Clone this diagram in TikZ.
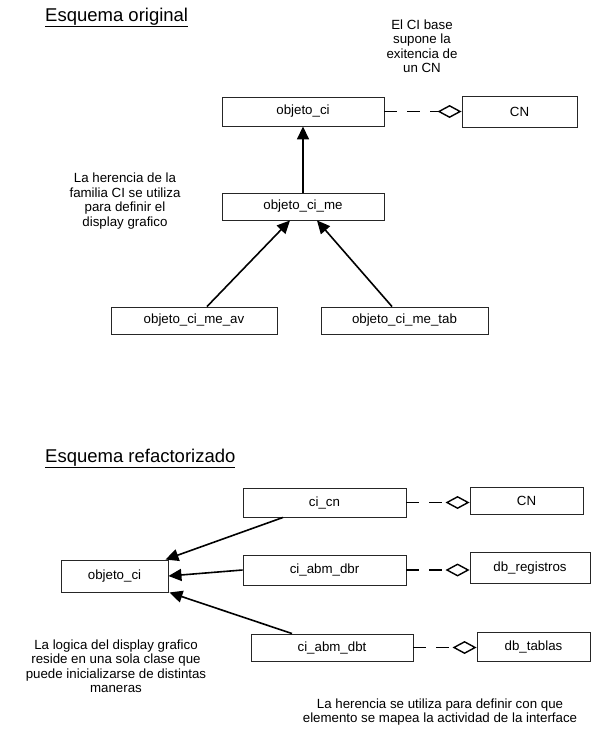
\documentclass[tikz,border=0pt]{standalone}
\usepackage{fontspec}
\setmainfont{Liberation Sans}
\usetikzlibrary{arrows.meta}
\begin{document}
\begin{tikzpicture}[x=1pt,y=-1pt,
  cls/.style={draw=black!85, line width=0.9pt, fill=white, inner sep=0pt,
    font=\fontsize{13.3}{14}\selectfont},
  inherit/.style={line width=1.6pt, -{Triangle[length=13pt,width=12pt]}},
  aggr/.style={line width=1.6pt, dash pattern=on 13pt off 10pt,
    -{Diamond[open,length=24pt,width=13pt,line width=1.4pt]}},
  note/.style={align=center, inner sep=0pt,
    font=\fontsize{13.3}{14.5}\selectfont},
  title/.style={anchor=base west, inner sep=0pt,
    font=\fontsize{18.5}{20}\selectfont}]
\useasboundingbox (0,0) rectangle (591,732);

% ---- original scheme ----
\node[title] (t1) at (45,21) {\underline{Esquema original}};

\node[cls, minimum width=162pt, minimum height=29pt] (oci) at (303,111.5) {objeto\_ci};
\node[cls, minimum width=115pt, minimum height=31pt] (cn1) at (519.5,111.5) {CN};
\node[cls, minimum width=162pt, minimum height=27pt] (ocime) at (303,206.5) {objeto\_ci\_me};
\node[cls, minimum width=166pt, minimum height=27pt] (av) at (194,320.5) {objeto\_ci\_me\_av};
\node[cls, minimum width=167pt, minimum height=27pt] (tab) at (404.5,320.5) {objeto\_ci\_me\_tab};

\node[note] (n1) at (422,46) {El CI base\\supone la\\exitencia de\\un CN};
\node[note] (n2) at (125,201) {La herencia de la\\familia CI se utiliza\\para definir el\\display grafico};

\draw[inherit] (ocime.north) -- (oci.south);
\draw[inherit] ([xshift=13pt]av.north) -- ([xshift=-13pt]ocime.south);
\draw[inherit] ([xshift=-12.5pt]tab.north) -- ([xshift=14pt]ocime.south);
\draw[aggr] (oci.east) -- (cn1.west);

% ---- refactored scheme ----
\node[title] (t2) at (45,462) {\underline{Esquema refactorizado}};

\node[cls, minimum width=107pt, minimum height=32pt] (oci2) at (114.5,576) {objeto\_ci};
\node[cls, minimum width=163pt, minimum height=29pt] (cicn) at (324.5,502.5) {ci\_cn};
\node[cls, minimum width=113pt, minimum height=27pt] (cn2) at (526.5,500.5) {CN};
\node[cls, minimum width=163pt, minimum height=30pt] (dbr) at (324.5,570) {ci\_abm\_dbr};
\node[cls, minimum width=120pt, minimum height=31pt] (dbreg) at (530,568) {db\_registros};
\node[cls, minimum width=162pt, minimum height=27pt] (dbt) at (332,647.5) {ci\_abm\_dbt};
\node[cls, minimum width=113pt, minimum height=29pt] (dbtab) at (533.5,646.5) {db\_tablas};

\node[note] (n3) at (116,666) {La logica del display grafico\\reside en una sola clase que\\puede inicializarse de distintas\\maneras};
\node[note] (n4) at (440,712) {La herencia se utiliza para definir con que\\elemento se mapea la actividad de la interface};

\draw[inherit] ([xshift=-41.5pt]cicn.south) -- ([xshift=-3pt]oci2.north east);
\draw[inherit] (dbr.west) -- (oci2.east);
\draw[inherit] ([xshift=-40pt]dbt.north) -- ([xshift=1pt]oci2.south east);
\draw[aggr] (cicn.east) -- (cn2.west |- cicn.east);
\draw[aggr] (dbr.east) -- (dbreg.west |- dbr.east);
\draw[aggr] (dbt.east) -- (dbtab.west |- dbt.east);
\end{tikzpicture}
\end{document}
